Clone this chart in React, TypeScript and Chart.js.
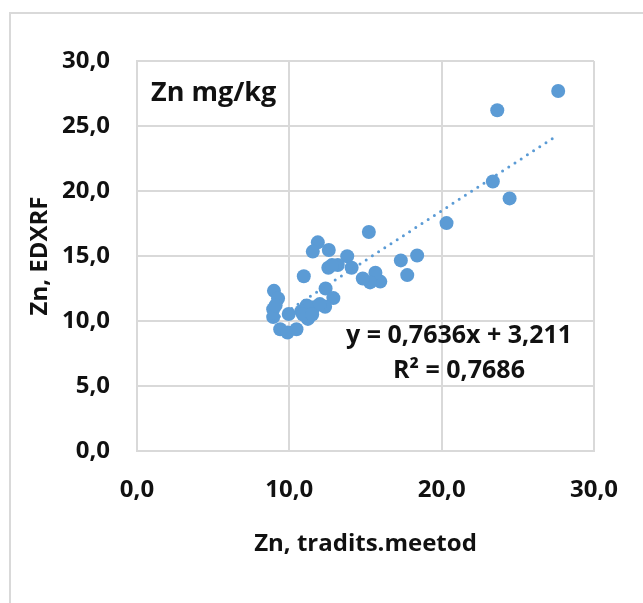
import React, { useEffect, useRef } from "react";
import { Chart, registerables } from "chart.js";

Chart.register(...registerables);

// Zn, traditional method (x) vs Zn, EDXRF (y), mg/kg
const traditsValues = [
  27.65, 23.65, 23.36, 24.46, 20.32, 15.22, 18.39, 17.32, 17.74, 15.97,
  15.65, 15.3, 14.82, 13.8, 14.09, 13.18, 12.56, 12.59, 11.87, 11.54,
  10.95, 12.38, 12.89, 12.35, 11.62, 11.22, 11.14, 10.79, 9.96, 8.99,
  9.26, 8.94, 8.94, 9.4, 9.88, 10.47, 12.8, 12.0, 9.1, 10.9, 11.5,
];
const edxrfValues = [
  27.69, 26.21, 20.73, 19.43, 17.53, 16.85, 15.04, 14.66, 13.53, 13.03,
  13.71, 12.97, 13.27, 14.98, 14.1, 14.3, 14.1, 15.46, 16.05, 15.34,
  13.44, 12.5, 11.76, 11.1, 11.05, 10.16, 11.19, 10.75, 10.54, 12.32,
  11.73, 10.9, 10.3, 9.36, 9.12, 9.36, 14.3, 11.3, 11.2, 10.5, 10.5,
];

const trendSlope = 0.7636;
const trendIntercept = 3.211;
const rSquared = 0.7686;

const chartTitle = "Zn mg/kg";
const xAxisTitle = "Zn, tradits.meetod";
const yAxisTitle = "Zn, EDXRF";
const xTicks = [0, 10, 20, 30];
const yTicks = [0, 5, 10, 15, 20, 25, 30];

const fmt = (v: number, d: number) => v.toFixed(d).replace(".", ",");

const BLUE = "#5B9BD5";
const GRID = "#D9D9D9";
const TEXT = "#111111";
const FONT = '"Open Sans", "DejaVu Sans", sans-serif';

export default function App() {
  const canvasRef = useRef<HTMLCanvasElement | null>(null);

  useEffect(() => {
    const canvas = canvasRef.current;
    if (!canvas) return;

    const points = traditsValues.map((x, i) => ({ x, y: edxrfValues[i] }));
    const minX = Math.min(...traditsValues);
    const maxX = Math.max(...traditsValues);
    const trend = [minX, maxX].map((x) => ({ x, y: trendSlope * x + trendIntercept }));

    const textPlugin = {
      id: "textOverlay",
      afterDatasetsDraw(chart: any) {
        const { ctx, chartArea } = chart;
        ctx.save();
        ctx.fillStyle = TEXT;
        ctx.textBaseline = "alphabetic";
        ctx.textAlign = "left";
        ctx.font = `bold 27px ${FONT}`;
        ctx.fillText(chartTitle, chartArea.left + 14, chartArea.top + 39.5);
        ctx.textAlign = "center";
        ctx.font = `bold 25px ${FONT}`;
        const cx = chartArea.left + 322;
        ctx.fillText(
          `y = ${fmt(trendSlope, 4)}x + ${fmt(trendIntercept, 3)}`,
          cx,
          chartArea.top + 282
        );
        ctx.fillText(`R² = ${fmt(rSquared, 4)}`, cx, chartArea.top + 317);
        ctx.restore();
      },
    };

    const chart = new Chart(canvas, {
      type: "scatter",
      data: {
        datasets: [
          {
            type: "line",
            data: trend,
            borderColor: BLUE,
            borderWidth: 3,
            borderDash: [0, 7.4],
            borderCapStyle: "round",
            pointRadius: 0,
            fill: false,
          } as any,
          {
            data: points,
            backgroundColor: BLUE,
            borderColor: BLUE,
            borderWidth: 0,
            pointRadius: 7,
          },
        ],
      },
      options: {
        animation: false,
        responsive: false,
        layout: { padding: { left: 0, top: 61, right: 47, bottom: 0 } },
        plugins: {
          legend: { display: false },
          tooltip: { enabled: false },
        },
        scales: {
          x: {
            type: "linear",
            min: 0,
            max: 30,
            afterBuildTicks: (scale: any) => {
              scale.ticks = xTicks.map((v) => ({ value: v }));
            },
            afterFit: (scale: any) => {
              scale.height = 152;
            },
            grid: { color: GRID, lineWidth: 2, drawTicks: false },
            border: { display: true, color: GRID, width: 2 },
            ticks: {
              padding: 25,
              color: TEXT,
              font: { family: FONT, size: 24, weight: "bold" },
              callback: (v: any) => fmt(Number(v), 1),
            },
            title: {
              display: true,
              text: xAxisTitle,
              color: TEXT,
              font: { family: FONT, size: 24, weight: "bold" },
              padding: { top: 0, bottom: 44 },
            },
          },
          y: {
            type: "linear",
            min: 0,
            max: 30,
            afterBuildTicks: (scale: any) => {
              scale.ticks = yTicks.map((v) => ({ value: v }));
            },
            afterFit: (scale: any) => {
              scale.width = 137;
            },
            grid: { color: GRID, lineWidth: 2, drawTicks: false },
            border: { display: true, color: GRID, width: 2 },
            ticks: {
              padding: 27,
              color: TEXT,
              font: { family: FONT, size: 24, weight: "bold" },
              callback: (v: any) => fmt(Number(v), 1),
            },
            title: {
              display: true,
              text: yAxisTitle,
              color: TEXT,
              font: { family: FONT, size: 24, weight: "bold" },
              padding: { top: 26, bottom: 0 },
            },
          },
        },
      },
      plugins: [textPlugin],
    } as any);

    return () => chart.destroy();
  }, []);

  return (
    <div
      style={{
        position: "fixed",
        left: 0,
        top: 0,
        width: 643,
        height: 603,
        overflow: "hidden",
        background: "#ffffff",
      }}
    >
      <div
        style={{
          position: "absolute",
          left: 9,
          top: 12,
          width: 700,
          height: 700,
          border: `2px solid ${GRID}`,
        }}
      />
      <canvas
        ref={canvasRef}
        width={643}
        height={603}
        style={{ position: "absolute", left: 0, top: 0, width: 643, height: 603 }}
      />
    </div>
  );
}
